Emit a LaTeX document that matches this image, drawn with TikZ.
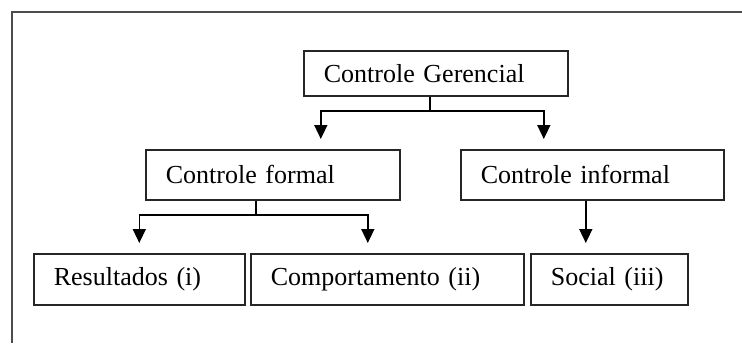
\documentclass[tikz,border=0pt]{standalone}
\usepackage{fontspec}
\setmainfont{Liberation Serif}
\usetikzlibrary{arrows.meta}
\begin{document}
\begin{tikzpicture}[x=1pt,y=-1pt,
  box/.style={draw=black!85, line width=1.6pt, anchor=north west, inner xsep=20pt, inner ysep=0pt, align=left, font=\fontsize{26}{30}\selectfont},
  link/.style={draw=black, line width=1.6pt},
  arr/.style={link, -{Triangle[width=13pt,length=14pt]}, shorten >=10pt},
  frame/.style={draw=black!70, line width=2pt}]
\useasboundingbox (0,0) rectangle (742,343);
\draw[frame] (742,11.5) -- (11.5,11.5) -- (11.5,343);
% boxes
\node[box, minimum width=264pt, minimum height=45pt, text width=224pt] (g) at (303,50) {Controle Gerencial};
\node[box, minimum width=254pt, minimum height=50pt, text width=214pt] (f) at (145,149) {Controle formal};
\node[box, minimum width=263pt, minimum height=50pt, text width=223pt] (i) at (460,149) {Controle informal};
\node[box, minimum width=211pt, minimum height=51pt, text width=171pt] (r) at (33,253) {Resultados (i)};
\node[box, minimum width=273pt, minimum height=51pt, text width=233pt] (c) at (250,253) {Comportamento (ii)};
\node[box, minimum width=157pt, minimum height=51pt, text width=117pt] (s) at (530,253) {Social (iii)};
% junctions
\coordinate (gj) at (430,111);
\coordinate (fj) at (256,215);
\draw[link] (g.south -| gj) -- (gj);
\draw[arr] (gj) -| ([xshift=48pt]f.north);
\draw[arr] (gj) -| ([xshift=-48.5pt]i.north);
\draw[link] (f.south -| fj) -- (fj);
\draw[arr] (fj) -| (r.north);
\draw[arr] (fj) -| ([xshift=-19.5pt]c.north);
\draw[arr] ([xshift=-6.5pt]i.south) -- ([xshift=-23.5pt]s.north);
\end{tikzpicture}
\end{document}
